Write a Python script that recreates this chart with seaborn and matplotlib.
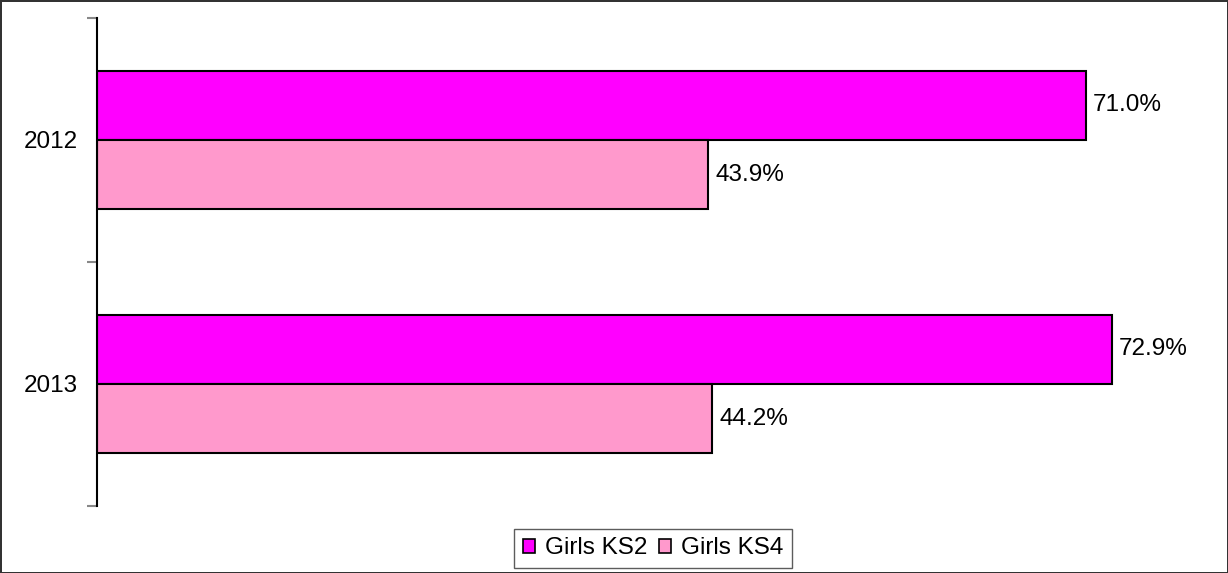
import numpy as np
import pandas as pd
import matplotlib
matplotlib.use('Agg')
import matplotlib.pyplot as plt
import seaborn as sb

# chart values
years = ['2012', '2013']
series = ['Girls KS2', 'Girls KS4']
ks2 = [71.0, 72.9]
ks4 = [43.9, 44.2]
colours = ['#FF00FF', '#FF99CC']

df = pd.DataFrame({
    'year': years * 2,
    'series': [series[0]] * 2 + [series[1]] * 2,
    'value': ks2 + ks4,
})

sb.set_style('white')
plt.rcParams['font.family'] = ['Liberation Sans', 'DejaVu Sans']
plt.rcParams['text.color'] = 'black'
plt.rcParams['ytick.labelcolor'] = 'black'

fig = plt.figure(figsize=(12.28, 5.73), dpi=100)
fig.patch.set_edgecolor('#333333')
fig.patch.set_linewidth(2)
ax = fig.add_axes([97 / 1228, 1 - 506 / 573, 1114 / 1228, 488 / 573])

sb.barplot(data=df, y='year', x='value', hue='series', orient='h',
           palette=colours, saturation=1, width=0.566, edgecolor='black', linewidth=1.5,
           ax=ax, legend=True)

for c in ax.containers:
    ax.bar_label(c, fmt='%.1f%%', padding=5, fontsize=17.5, color='black')

ax.set_xlim(0, 80)
ax.set_ylim(1.5, -0.5)
ax.set_xlabel('')
ax.set_ylabel('')
ax.set_xticks([])
for s in ['top', 'right', 'bottom']:
    ax.spines[s].set_visible(False)
ax.spines['left'].set_color('black')
ax.spines['left'].set_linewidth(1.5)

# boundary ticks as major, category labels on minor ticks
ax.set_yticks([-0.5, 0.5, 1.5])
ax.set_yticklabels(['', '', ''])
ax.set_yticks([0, 1], minor=True)
ax.set_yticklabels(years, minor=True, fontsize=17.5, color='black')
ax.tick_params(axis='y', which='major', left=True, length=7, width=1.5, color='#888888')
ax.tick_params(axis='y', which='minor', left=False, length=0, pad=14)

ax.get_legend().remove()
handles = [plt.Rectangle((0, 0), 1, 1, facecolor=col, edgecolor='black', linewidth=1.2) for col in colours]
leg = fig.legend(handles, series, loc='lower center', bbox_to_anchor=(653 / 1228, 5 / 573),
                 ncol=2, fontsize=17.5, frameon=True, fancybox=False, edgecolor='#333333',
                 handlelength=0.5, handleheight=0.5, handletextpad=0.4, columnspacing=0.5,
                 borderpad=0.35, borderaxespad=0)
leg.get_frame().set_linewidth(1)

fig.savefig('out.png', dpi=100, edgecolor=fig.get_edgecolor())
